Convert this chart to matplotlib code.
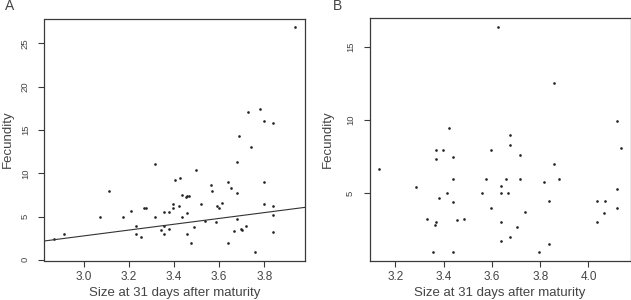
import numpy as np
import matplotlib.pyplot as plt
import matplotlib as mpl

mpl.rcParams["font.family"] = ["Liberation Sans", "DejaVu Sans"]

# Panel A: size at 31 days vs fecundity
size_a = [2.868, 2.910, 3.073, 3.111, 3.173, 3.207, 3.233, 3.233, 3.253, 3.265,
          3.274, 3.316, 3.316, 3.341, 3.356, 3.356, 3.356, 3.376, 3.379, 3.396,
          3.396, 3.404, 3.427, 3.422, 3.436, 3.436, 3.453, 3.459, 3.464, 3.456,
          3.456, 3.477, 3.489, 3.498, 3.519, 3.539, 3.566, 3.570, 3.588, 3.591,
          3.599, 3.613, 3.639, 3.653, 3.639, 3.667, 3.680, 3.680, 3.680, 3.687,
          3.698, 3.701, 3.720, 3.741, 3.760, 3.801, 3.801, 3.841, 3.841, 3.841,
          3.730, 3.781, 3.801, 3.840, 3.938]
fec_a = [2.42, 2.96, 4.96, 8.0, 4.96, 5.62, 3.92, 2.96, 2.62, 6.0,
         6.0, 11.04, 4.96, 3.5, 5.5, 2.96, 3.92, 3.62, 5.5, 6.5,
         6.0, 9.23, 9.5, 6.23, 4.96, 7.5, 7.3, 7.42, 7.35, 5.46,
         2.96, 1.96, 3.81, 10.38, 6.5, 4.5, 8.62, 8.0, 4.38, 6.19,
         6.0, 6.58, 9.0, 8.35, 1.96, 3.31, 4.69, 7.73, 11.35, 14.35,
         3.62, 3.5, 3.92, 13.04, 0.96, 9.0, 6.5, 6.19, 5.23, 3.23,
         17.04, 17.38, 16.08, 15.85, 26.85]
fit_intercept = -7.31
fit_slope = 3.36

# Panel B
size_b = [3.134, 3.286, 3.331, 3.365, 3.369, 3.355, 3.369, 3.397, 3.369, 3.383,
          3.416, 3.437, 3.437, 3.437, 3.437, 3.456, 3.486, 3.557, 3.576, 3.596,
          3.596, 3.636, 3.636, 3.636, 3.636, 3.657, 3.666, 3.676, 3.676, 3.676,
          3.704, 3.716, 3.716, 3.737, 3.797, 3.817, 3.838, 3.838, 3.857, 3.877,
          4.037, 4.037, 4.068, 4.065, 4.118, 4.118, 4.134,
          3.626, 3.857, 3.421, 4.118]
fec_b = [6.66, 5.41, 3.25, 2.82, 3.0, 1.0, 7.98, 7.98, 7.32, 4.66,
         5.0, 7.48, 6.0, 4.41, 1.0, 3.16, 3.25, 5.0, 6.0, 7.98,
         3.98, 5.5, 5.0, 3.0, 1.75, 6.0, 5.0, 8.95, 8.3, 2.0,
         2.66, 7.64, 6.0, 3.75, 1.0, 5.75, 4.5, 1.5, 7.0, 6.0,
         4.5, 3.0, 4.5, 3.66, 5.32, 4.0, 8.07,
         16.35, 12.55, 9.48, 9.96]

xticks_a = [3.0, 3.2, 3.4, 3.6, 3.8]
yticks_a = [0, 5, 10, 15, 20, 25]
xticks_b = [3.2, 3.4, 3.6, 3.8, 4.0]
yticks_b = [5, 10, 15]


def r_limits(vals):
    # R style 4% padding on each side
    lo, hi = min(vals), max(vals)
    pad = (hi - lo) * 0.04
    return lo - pad, hi + pad


fig = plt.figure(figsize=(6.31, 3.0), dpi=100)
ax_a = fig.add_axes([44.5 / 631, 39.5 / 300, 260.5 / 631, 242.0 / 300])
ax_b = fig.add_axes([369.7 / 631, 39.3 / 300, 260.8 / 631, 242.4 / 300])

spine_col = "#3a3a3a"
text_col = "#444444"

for ax, xs, ys, xt, yt, letter, lx, ypad in [
    (ax_a, size_a, fec_a, xticks_a, yticks_a, "A", 5, 5),
    (ax_b, size_b, fec_b, xticks_b, yticks_b, "B", 333, 9),
]:
    ax.plot(xs, ys, "o", color="#222222", markersize=1.9, markeredgewidth=0)
    ax.set_xlim(*r_limits(xs))
    ax.set_ylim(*r_limits(ys))
    ax.set_xticks(xt, labels=[f"{t:.1f}" for t in xt])
    ax.set_yticks(yt, labels=[str(t) for t in yt])
    ax.tick_params(axis="x", length=4.5, width=0.8, color=spine_col,
                   labelsize=8.5, labelcolor=text_col, pad=3)
    ax.tick_params(axis="y", length=4.5, width=0.8, color=spine_col,
                   labelsize=6.8, labelcolor=text_col, pad=6, labelrotation=90)
    for lbl in ax.get_yticklabels():
        lbl.set_verticalalignment("center")
    for sp in ax.spines.values():
        sp.set_color(spine_col)
        sp.set_linewidth(0.9)
    ax.set_xlabel("Size at 31 days after maturity", fontsize=9.5,
                  color=text_col, labelpad=3)
    ax.set_ylabel("Fecundity", fontsize=9.5, color=text_col, labelpad=ypad)
    # panel letter in the top-left corner of each half
    fig.text(lx / 631, 1 - 13.5 / 300, letter, fontsize=10,
             color=text_col, ha="left", va="bottom")

# fitted line across whole panel A
ax_a.axline((0, fit_intercept), slope=fit_slope, color="#333333", linewidth=0.8)

fig.savefig("out.png", dpi=100)
